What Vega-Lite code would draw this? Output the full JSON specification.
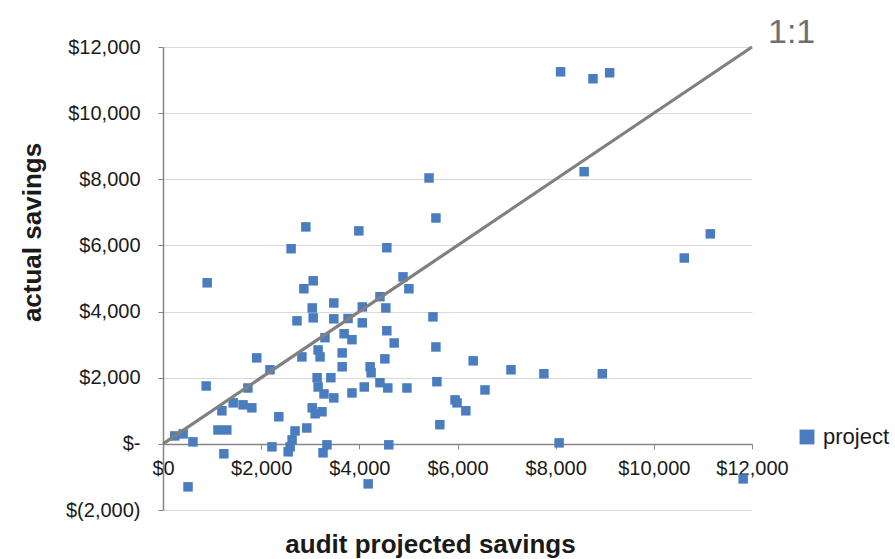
{
  "$schema": "https://vega.github.io/schema/vega-lite/v6.json",
  "width": 589,
  "height": 463,
  "autosize": "none",
  "padding": {"left": 163, "top": 47, "right": 143, "bottom": 49},
  "background": "white",
  "config": {
    "view": {"stroke": null},
    "font": "Liberation Sans"
  },
  "datasets": {
    "pts": [
      {"x": 8100, "y": 11250}, {"x": 8760, "y": 11040}, {"x": 9100, "y": 11220}, {"x": 8580, "y": 8230},
      {"x": 10620, "y": 5620}, {"x": 11150, "y": 6350}, {"x": 8950, "y": 2120}, {"x": 7760, "y": 2120},
      {"x": 7090, "y": 2240}, {"x": 8070, "y": 30}, {"x": 11820, "y": -1060}, {"x": 5420, "y": 8040},
      {"x": 5560, "y": 6830}, {"x": 5500, "y": 3840}, {"x": 5560, "y": 2930}, {"x": 5580, "y": 1880},
      {"x": 5640, "y": 580}, {"x": 5950, "y": 1330}, {"x": 5990, "y": 1240}, {"x": 6170, "y": 1000},
      {"x": 6320, "y": 2510}, {"x": 6560, "y": 1630}, {"x": 3990, "y": 6440}, {"x": 4560, "y": 5930},
      {"x": 4890, "y": 5050}, {"x": 5010, "y": 4690}, {"x": 4420, "y": 4450}, {"x": 4540, "y": 4110},
      {"x": 4060, "y": 4140}, {"x": 4560, "y": 3420}, {"x": 4710, "y": 3050}, {"x": 4520, "y": 2570},
      {"x": 4220, "y": 2330}, {"x": 4240, "y": 2150}, {"x": 4420, "y": 1850}, {"x": 4580, "y": 1690},
      {"x": 4100, "y": 1720}, {"x": 4970, "y": 1690}, {"x": 4600, "y": -30}, {"x": 4180, "y": -1210},
      {"x": 3850, "y": 1540}, {"x": 3650, "y": 2330}, {"x": 3650, "y": 2750}, {"x": 3690, "y": 3330},
      {"x": 3850, "y": 3150}, {"x": 4060, "y": 3660}, {"x": 3480, "y": 4260}, {"x": 3480, "y": 3780},
      {"x": 3770, "y": 3790}, {"x": 3480, "y": 1390}, {"x": 3280, "y": 1510}, {"x": 3340, "y": -30},
      {"x": 3260, "y": -270}, {"x": 2910, "y": 6560}, {"x": 2610, "y": 5900}, {"x": 3060, "y": 4930},
      {"x": 2870, "y": 4690}, {"x": 3040, "y": 4110}, {"x": 3060, "y": 3810}, {"x": 2730, "y": 3720},
      {"x": 3300, "y": 3210}, {"x": 3160, "y": 2840}, {"x": 3200, "y": 2630}, {"x": 2830, "y": 2630},
      {"x": 3140, "y": 2000}, {"x": 3420, "y": 2000}, {"x": 3160, "y": 1720}, {"x": 3040, "y": 1090},
      {"x": 3100, "y": 910}, {"x": 3240, "y": 970}, {"x": 2930, "y": 480}, {"x": 2690, "y": 390},
      {"x": 2630, "y": 120}, {"x": 2590, "y": -90}, {"x": 2550, "y": -240}, {"x": 2360, "y": 820},
      {"x": 2220, "y": -90}, {"x": 2180, "y": 2240}, {"x": 1910, "y": 2600}, {"x": 1730, "y": 1690},
      {"x": 1430, "y": 1240}, {"x": 1630, "y": 1180}, {"x": 1810, "y": 1090}, {"x": 1200, "y": 1000},
      {"x": 1120, "y": 420}, {"x": 1300, "y": 420}, {"x": 880, "y": 1750}, {"x": 900, "y": 4870},
      {"x": 240, "y": 240}, {"x": 410, "y": 300}, {"x": 610, "y": 60}, {"x": 1240, "y": -300},
      {"x": 510, "y": -1300}
    ],
    "oneone": [{"x": 0, "y": 0}, {"x": 12000, "y": 12000}],
    "lbl": [{"x": 12000, "y": 12000, "t": "1:1"}]
  },
  "layer": [
    {
      "data": {"name": "pts"},
      "mark": {"type": "square", "size": 90, "opacity": 1},
      "encoding": {
        "x": {
          "field": "x", "type": "quantitative",
          "scale": {"domain": [0, 12000], "nice": false, "zero": false},
          "axis": {
            "values": [0, 2000, 4000, 6000, 8000, 10000, 12000],
            "labelExpr": "'$' + format(datum.value, ',')",
            "offset": -66.1,
            "grid": false,
            "domainColor": "#868686",
            "domainWidth": 1.5,
            "tickColor": "#868686",
            "tickSize": 5,
            "labelFontSize": 20,
            "labelColor": "#1a1a1a",
            "labelPadding": 10,
            "labelFlush": false,
            "title": "audit projected savings",
            "titleFontSize": 26,
            "titleFontWeight": "bold",
            "titleColor": "#1a1a1a",
            "titleX": 267,
            "titleY": 101,
            "titleAlign": "center",
            "titleBaseline": "middle",
            "titleAnchor": null
          }
        },
        "y": {
          "field": "y", "type": "quantitative",
          "scale": {"domain": [-2000, 12000], "nice": false, "zero": false},
          "axis": {
            "values": [-2000, 0, 2000, 4000, 6000, 8000, 10000, 12000],
            "labelExpr": "datum.value == 0 ? '$-' : (datum.value < 0 ? '$(' + format(-datum.value, ',') + ')' : '$' + format(datum.value, ','))",
            "grid": true,
            "gridColor": "#d9d9d9",
            "gridWidth": 1,
            "domainColor": "#868686",
            "domainWidth": 1.5,
            "tickColor": "#868686",
            "tickSize": 5,
            "labelFontSize": 20,
            "labelColor": "#1a1a1a",
            "labelPadding": 18,
            "labelFlush": false,
            "title": "actual savings",
            "titleFontSize": 26,
            "titleFontWeight": "bold",
            "titleColor": "#1a1a1a",
            "titleAngle": -90,
            "titleX": -131,
            "titleY": 185,
            "titleAlign": "center",
            "titleBaseline": "middle",
            "titleAnchor": null
          }
        },
        "color": {
          "datum": "project",
          "type": "nominal",
          "scale": {"range": ["#4A7CC0"]},
          "legend": {
            "title": null,
            "orient": "none",
            "legendX": 633,
            "legendY": 379,
            "symbolType": "square",
            "symbolSize": 220,
            "symbolStrokeWidth": 0,
            "labelFontSize": 22,
            "labelColor": "#1a1a1a",
            "labelOffset": 5
          }
        }
      }
    },
    {
      "data": {"name": "oneone"},
      "mark": {"type": "line", "color": "#808080", "strokeWidth": 3.2},
      "encoding": {
        "x": {"field": "x", "type": "quantitative"},
        "y": {"field": "y", "type": "quantitative"}
      }
    },
    {
      "data": {"name": "lbl"},
      "mark": {"type": "text", "align": "left", "baseline": "middle", "dx": 16, "dy": -14, "fontSize": 34, "color": "#6f6f6f"},
      "encoding": {
        "x": {"field": "x", "type": "quantitative"},
        "y": {"field": "y", "type": "quantitative"},
        "text": {"field": "t"}
      }
    }
  ]
}
